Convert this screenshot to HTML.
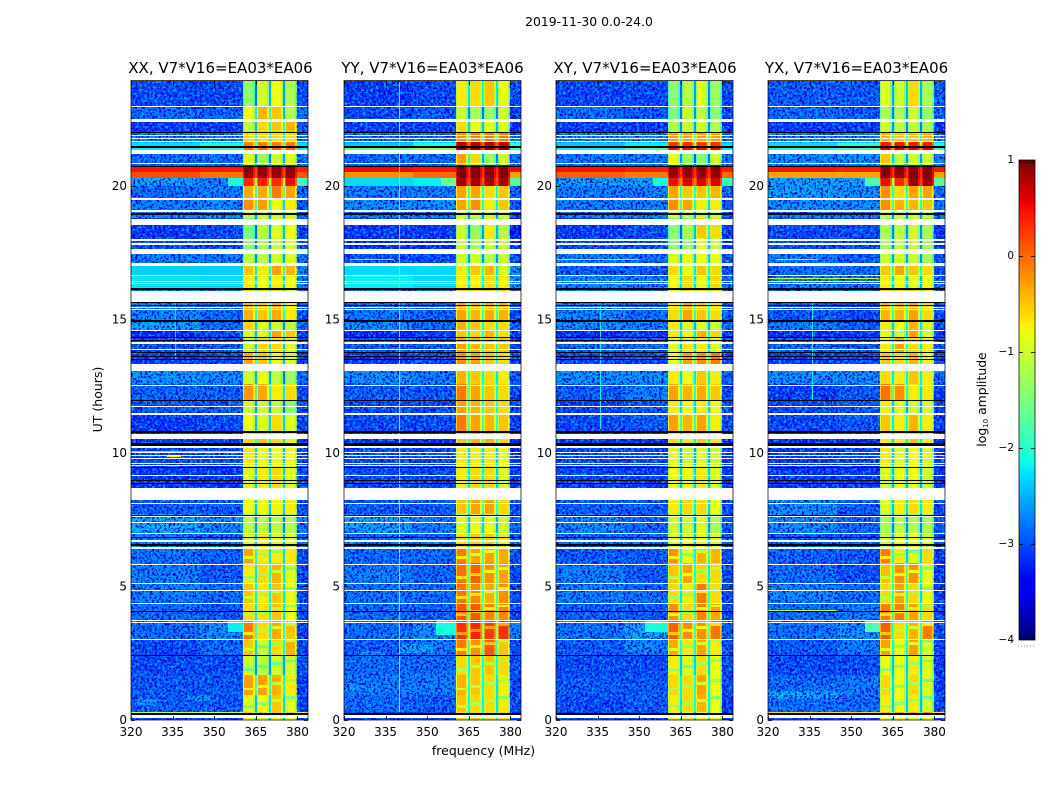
<!DOCTYPE html>
<html>
<head>
<meta charset="utf-8">
<title>2019-11-30 0.0-24.0</title>
<style>
html,body{margin:0;padding:0;background:#fff;width:1050px;height:800px;overflow:hidden}
svg{display:block;font-family:"DejaVu Sans","Liberation Sans",sans-serif;fill:#000}
</style>
</head>
<body>
<svg id="chart" xmlns="http://www.w3.org/2000/svg" width="1050" height="800" viewBox="0 0 1050 800">
  <defs id="defs">
    <filter id="speckle-dark" x="0" y="0" width="100%" height="100%" color-interpolation-filters="sRGB">
      <feTurbulence type="fractalNoise" baseFrequency="0.42" numOctaves="2" seed="4"/>
      <feColorMatrix type="matrix" values="0 0 0 0 0  0 0 0 0 0  0 0 0 0 0.85  8 0 0 0 -3.9"/>
    </filter>
    <filter id="speckle-light" x="0" y="0" width="100%" height="100%" color-interpolation-filters="sRGB">
      <feTurbulence type="fractalNoise" baseFrequency="0.38" numOctaves="2" seed="11"/>
      <feColorMatrix type="matrix" values="0 0 0 0 0  0 0 0 0 0.66  0 0 0 0 1  0 8 0 0 -4.3"/>
    </filter>
  </defs>
  <text x="589" y="26" text-anchor="middle" font-size="12.4">2019-11-30 0.0-24.0</text>
  <g id="panels"></g>
  <text x="483.5" y="755" text-anchor="middle" font-size="12.5">frequency (MHz)</text>
  <text transform="translate(102,399.5) rotate(-90)" text-anchor="middle" font-size="12.5">UT (hours)</text>
  <g id="colorbar"></g>
  <text transform="translate(986,399.5) rotate(-90)" text-anchor="middle" font-size="12.4">log<tspan font-size="7" dy="2">10</tspan><tspan dy="-2"> amplitude</tspan></text>
</svg>
<script>
// ---- axis data ----
const freqTicks = [320, 335, 350, 365, 380];
const utTicks = [0, 5, 10, 15, 20];
const levelTicks = [1, 0, -1, -2, -3, -4];
const levelTickLabels = ["1", "0", "\u22121", "\u22122", "\u22123", "\u22124"];
const panelTitles = ["XX, V7*V16=EA03*EA06", "YY, V7*V16=EA03*EA06", "XY, V7*V16=EA03*EA06", "YX, V7*V16=EA03*EA06"];

// ---- heatmap structure (UT hours, MHz) ----
const rowEdges = [23.93,22.98,22.49,22.01,21.63,21.46,21.33,20.77,20.51,20.28,19.99,19.54,19.09,18.79,18.04,17.63,17.10,16.65,16.17,15.61,14.97,14.60,14.33,13.77,13.32,12.57,11.98,11.49,10.82,10.37,9.51,8.68,7.71,7.00,6.47,5.88,5.13,4.38,3.74,3.03,2.43,1.68,0.94,0.30,0.26,0];
const blockEdges = [320, 345, 360.3, 364.6, 365.4, 369.7, 370.5, 374.7, 375.5, 379.7, 383.8];
const whiteFlags = [[22.94,22.98],[22.45,22.49],[22.38,22.42],[21.86,21.90],[21.75,21.79],[21.63,21.67],[21.18,21.35],[20.81,20.86],[19.47,19.54],[19.01,19.09],[18.54,18.76],[17.95,18.03],[17.80,17.85],[17.47,17.62],[17.00,17.10],[16.61,16.65],[16.39,16.43],[16.32,16.35],[15.67,16.07],[15.42,15.46],[15.34,15.38],[14.56,14.62],[14.09,14.15],[13.85,13.90],[13.08,13.32],[12.50,12.56],[11.71,11.77],[11.43,11.49],[10.52,10.71],[10.19,10.25],[10.00,10.04],[9.89,9.94],[9.77,9.81],[9.61,9.64],[9.51,9.54],[9.15,9.19],[8.23,8.67],[8.08,8.12],[7.60,7.64],[7.37,7.41],[6.96,7.00],[6.65,6.74],[6.40,6.47],[5.83,5.86],[5.08,5.12],[4.82,4.85],[4.34,4.37],[3.71,3.74],[3.65,3.68],[2.99,3.02],[0.09,0.19]];
const blackFlags = [[21.97,22.01],[21.43,21.48],[20.70,20.75],[18.92,18.97],[16.11,16.16],[15.61,15.67],[15.49,15.53],[14.91,14.97],[14.30,14.33],[14.18,14.23],[13.73,13.77],[13.58,13.62],[13.47,13.51],[11.94,11.98],[10.76,10.82],[10.25,10.37],[9.43,9.49],[8.96,9.00],[8.83,8.87],[7.65,7.69],[6.81,6.85],[6.53,6.60],[4.06,4.08],[2.39,2.42],[0.19,0.26]];

// ---- log10 amplitude per row: [320-345, 345-360, subband1, subband2, subband3, subband4, 380-384] ----
const valuesXX = [
[-3,-3,-1.4,-1,-.8,-1.2,-3],[-2.8,-2.85,-.8,-.4,-.5,-1.2,-2.8],[-3.1,-3.1,-1.1,-.6,-.5,-.4,-2.9],[-2.7,-2.7,-.6,-.6,-.6,-.6,-2.8],[-2.3,-2.1,-.1,-.1,-.1,-.1,-2.3],[-2.2,-2,0,0,0,0,-2.2],[-2.8,-2.8,-.9,-1.3,-1,-.9,-2.7],[.45,.4,.95,.95,.95,.95,.4],[.15,-.05,.9,.9,.9,.9,.1],[-2.5,-2.7,.35,.4,.35,.5,-1.9],[-2.8,-2.7,-.35,-.35,-.1,-.3,-2.8],[-2.7,-2.6,-.2,-.3,-.8,-.7,-2.9],[-2.6,-2.6,-1,-1,-1,-1,-2.8],[-3.1,-3,-1.5,-1.1,-.9,-.8,-3.1],[-3,-3,-1.4,-1.2,-1,-.9,-3],[-2.7,-2.7,-1.1,-1.1,-1,-.9,-2.7],[-2.35,-2.35,-.5,-.7,-.3,-.4,-2.6],[-2.25,-2.3,-.7,-.8,-.7,-.8,-2.7],[-2.6,-2.7,-.6,-.6,-.6,-.8,-2.8],[-2.65,-2.8,-.4,-.5,-.35,-.7,-2.9],[-2.5,-2.8,-.6,-.9,-1,-1.1,-2.8],[-3.2,-3,-.9,-.9,-.3,-.5,-3.1],[-3,-2.9,-1,-.6,-.6,-.9,-2.9],[-3.1,-3,-.35,-.5,-.8,-.9,-3],[-2.55,-2.6,-1,-.8,-1.1,-1.3,-2.8],[-2.85,-2.85,-.25,-.35,-.7,-.6,-3],[-2.9,-2.9,-1,-1,-1.1,-1.4,-3],[-3.1,-3,-.8,-.9,-.6,-.9,-3],[-3.1,-3.1,-.6,-.5,-.6,-.7,-3.1],[-3,-3,-.7,-.8,-.8,-.8,-3],[-3.1,-3.1,-.9,-.7,-.6,-.9,-3],[-2.9,-2.9,-.8,-.8,-.75,-.7,-2.9],[-2.45,-2.6,-1.1,-1.1,-1.1,-1.2,-2.7],[-2.7,-2.8,-.9,-.7,-.9,-.9,-2.8],[-2.75,-2.85,-.3,-.7,-.7,-.7,-3],[-2.7,-2.9,-.7,-.6,-.4,-.9,-3],[-2.7,-2.8,-.5,-.7,-.5,-.8,-3],[-2.8,-2.9,-.6,-.65,-.5,-.8,-3],[-2.8,-2.6,-.1,-.6,-.35,-.5,-3.1],[-3,-2.8,-.5,-1,-.6,-.4,-3],[-3,-3,-1,-1.1,-1,-1,-3],[-2.9,-2.9,-.3,-.3,-.4,-.7,-3.1],[-2.9,-2.9,-.9,-.8,-.5,-.9,-3.1],[-1,-1,-.5,-.5,-.5,-.5,-1],[-3,-3,-.8,-.8,-.8,-.8,-3]
];
const valuesYY = [
[-3.1,-3,-.7,-.6,-.5,-.8,-3],[-3,-2.9,-1,-1.2,-1.3,-1,-3.1],[-3.1,-3.1,-.6,-.8,-.9,-.9,-3.2],[-2.8,-2.8,-.2,-.1,-.1,-.1,-2.8],[-2.4,-2.1,.75,.75,.75,.75,-2],[-1.7,-1.4,.9,.9,.9,.9,-2],[-2.8,-2.8,-.3,-.6,-1.3,-1,-2.8],[.5,.45,1,1,1,1,.5],[-.2,0,1,1,1,1,-.3],[-2.3,-2.2,.85,.85,.85,.85,-1.7],[-2.7,-2.7,-.3,-.3,-.6,-.5,-2.8],[-2.6,-2.6,-.3,-.2,-.7,-.5,-2.9],[-2.7,-2.7,-1,-1,-1,-1,-2.9],[-3.1,-3.1,-1,-1.3,-.7,-1.1,-3.3],[-3.2,-3.2,-1,-1.2,-1,-1,-3.2],[-3,-3,-1,-1,-1.1,-1,-3],[-2.3,-2.3,-.7,-.5,-.4,-.9,-2.6],[-2.2,-2.3,-.7,-.7,-.6,-.7,-2.6],[-2.7,-2.8,-.5,-.5,-.5,-.6,-2.9],[-2.75,-2.85,-.3,-.4,-.35,-.4,-3],[-2.6,-2.8,-.4,-.5,-.6,-.6,-2.9],[-3.2,-3.1,-.5,-.6,-.4,-.6,-3.1],[-2.9,-2.9,-.3,-.4,-.5,-.5,-3],[-3.1,-3,-.2,-.3,-.5,-.6,-3],[-2.6,-2.7,-.4,-.5,-.6,-.7,-2.9],[-2.9,-2.9,-.1,-.3,-.5,-.6,-3],[-3,-3,-.3,-.4,-.5,-.6,-3],[-3,-3,-.1,-.3,-.4,-.5,-3],[-3.2,-3.2,-.5,-.4,-.4,-.6,-3.2],[-3,-3,-.7,-.7,-.7,-.8,-3.1],[-3,-3,-.7,-.6,-.6,-.9,-3.1],[-2.9,-2.9,-.5,-.3,-.3,-.6,-3],[-2.5,-2.7,-.9,-.8,-.8,-1,-2.8],[-2.8,-2.8,-.6,-.5,-.5,-.7,-2.9],[-2.8,-2.8,-.1,-.3,-.3,-.35,-3],[-2.7,-2.85,-.05,.05,-.2,-.3,-3],[-2.75,-2.8,-.05,-.15,-.35,-.2,-3],[-2.8,-2.85,.1,.1,-.15,-.15,-3],[-2.8,-2.6,.3,.35,.25,.3,-2.7],[-2.9,-2.7,-.1,-.2,.1,-.5,-3],[-2.8,-2.8,-.6,-.5,-.5,-.6,-3],[-2.7,-2.7,-.4,-.5,-.6,-.7,-3],[-2.8,-2.9,-.5,-.6,-.6,-.7,-3],[-3,-3,-.6,-.6,-.6,-.6,-3],[-3,-3,-.6,-.5,-.6,-.6,-3]
];
const valuesXY = [
[-3,-3,-1.4,-1.1,-.9,-1.3,-3],[-2.8,-2.9,-1.5,-1,-1.1,-1.4,-3],[-3.1,-3.1,-1.2,-1,-1,-1.2,-3.2],[-2.6,-2.6,-.3,-.3,-.3,-.3,-2.8],[-2.4,-2.2,.3,.3,.3,.3,-2.3],[-2.2,-1.9,.5,.5,.5,.5,-2.2],[-2.7,-2.7,-.8,-1.3,-1.4,-1,-2.8],[.45,.4,1,1,1,1,.4],[.05,-.1,.95,.95,.95,.95,0],[-2.5,-2.5,.5,.6,.6,.6,-1.9],[-2.7,-2.7,-.3,-.5,-.5,-.4,-2.8],[-2.7,-2.7,-.2,-.3,-.7,-.7,-2.9],[-2.7,-2.7,-.9,-1,-1,-1,-2.9],[-3.1,-3,-1.4,-1.2,-.5,-.6,-3.1],[-3,-3,-1.4,-1.3,-.8,-1,-3.1],[-2.7,-2.8,-.9,-.8,-.8,-.8,-2.9],[-2.9,-2.9,-.6,-.8,-.5,-.6,-3],[-2.6,-2.7,-.8,-.6,-.8,-.6,-2.8],[-2.7,-2.8,-.7,-.5,-.6,-.6,-2.9],[-2.65,-2.8,-.6,-.3,-.5,-.6,-2.9],[-2.6,-2.7,-.7,-.9,-.9,-1,-2.8],[-3.2,-3.1,-.7,-.8,-.4,-.6,-3.1],[-2.8,-2.8,-.9,-.7,-.7,-.9,-2.9],[-3,-3,-.8,-.3,-.2,-.1,-3],[-2.6,-2.6,-.7,-.8,-.5,-.7,-2.9],[-2.9,-2.7,-.3,-.4,-.35,-.5,-3],[-3.1,-2.9,-.7,-.8,-.7,-.8,-3],[-3,-2.9,-.3,-.4,-.3,-.7,-3],[-3.2,-3.2,-.6,-.7,-.5,-.7,-3.2],[-3,-3,-.9,-1,-.9,-1,-3.1],[-3,-3.1,-.8,-.8,-.7,-.9,-3.1],[-2.9,-2.9,-.7,-.6,-.6,-.8,-3],[-2.6,-2.8,-1,-1,-.9,-1.2,-2.9],[-2.8,-2.8,-.9,-.8,-.8,-.9,-2.9],[-2.9,-2.9,-.2,-.8,-.4,-.4,-3],[-2.7,-2.9,-.5,-.3,-.6,-.6,-3],[-2.7,-2.8,-.6,-.7,-.1,-.6,-3],[-2.85,-2.9,-.2,-.6,-.15,-.3,-3],[-2.75,-2.5,.05,-.2,-.2,-.05,-2.9],[-2.9,-2.7,-.35,-.7,-.3,-.7,-3],[-3,-3,-.7,-.9,-.6,-.8,-3],[-2.9,-2.9,-.6,-.6,-.3,-.8,-3],[-3,-2.9,-.7,-.6,-.4,-.8,-3.1],[-3,-3,-.8,-.8,-.8,-.8,-3],[-3,-3,-.7,-.7,-.7,-.7,-3]
];
const valuesYX = [
[-2.9,-2.9,-.9,-1,-.6,-1.2,-2.9],[-2.8,-2.9,-1.2,-1.2,-1,-1.3,-2.9],[-3.1,-3.1,-1,-1.1,-1.1,-1.2,-3.2],[-2.7,-2.7,-.4,-.5,-.5,-.4,-2.7],[-2.3,-2,.45,.45,.45,.4,-2.1],[-2.1,-1.9,.6,.6,.6,.6,-2],[-2.6,-2.6,-.5,-1.1,-1,-1,-2.7],[.45,.4,1,1,1,1,.45],[-.3,-.3,1,.95,1,1,-.3],[-2.5,-2.5,.5,.35,.9,.9,-1.7],[-2.5,-2.6,-.2,-.6,-.3,-.3,-2.8],[-2.6,-2.6,-.2,-.4,-.4,-.5,-2.8],[-2.7,-2.7,-1,-1,-1,-1,-2.8],[-3,-3,-1.2,-1.1,-1,-1.2,-3.1],[-3,-3,-1.2,-1.1,-1,-1.2,-3.1],[-2.7,-2.9,-1,-1,-1,-1.2,-3],[-2.8,-2.8,-.5,-.3,-.5,-.6,-3],[-2.7,-2.8,-.7,-.8,-.9,-.8,-2.8],[-2.8,-2.9,-.5,-.6,-.5,-.7,-2.9],[-2.9,-3,-.4,-.4,-.3,-.6,-3],[-2.7,-2.9,-.7,-.8,-.4,-.9,-3],[-3.2,-3.1,-.8,-1,-.3,-.9,-3.1],[-2.85,-2.9,-.7,-.35,-.6,-.7,-3],[-3.1,-3,-.5,-.6,-.4,-.8,-3],[-2.6,-2.6,-.6,-.7,-.5,-.7,-2.8],[-3.1,-2.9,-.05,-.2,-.7,-.7,-3.1],[-3,-2.9,-.7,-.9,-1,-1,-3],[-3,-2.9,-.5,-.7,-.4,-.7,-3],[-3.2,-3.2,-.7,-.7,-.5,-.7,-3.2],[-3.1,-3,-.7,-.9,-.8,-.9,-3],[-3.1,-3.1,-.9,-.8,-.8,-1,-3.1],[-2.6,-2.9,-.9,-.7,-.6,-.7,-3],[-2.6,-2.8,-1.2,-1.1,-1.2,-1.2,-2.9],[-2.9,-2.9,-1,-.8,-.8,-.9,-3],[-2.85,-2.9,-.1,-.7,-.9,-.6,-3.1],[-2.8,-3,-.45,-.2,-.2,-.8,-3.1],[-2.65,-2.8,-.6,-.3,-.6,-.8,-3.1],[-2.8,-2.7,-.1,-.1,-.3,-.6,-3],[-2.75,-2.6,.05,-.6,-.4,-.1,-3],[-2.9,-2.7,-.3,-.8,-.3,-.9,-3],[-3,-3,-.8,-.8,-.7,-.9,-3.1],[-2.8,-2.7,-.6,-.8,-.6,-.9,-3.1],[-2.8,-2.8,-.7,-.8,-.7,-1,-3],[-.6,-.6,-.3,-.3,-.3,-.3,-.6],[-3,-3,-.8,-.8,-.8,-.8,-3]
];
// Localised features: [panel, fStart, fEnd, utStart, utEnd, log10 amplitude]
const localFeatures = [
[0,355,360.3,3.3,3.75,-2.2],[0,333,338,9.87,9.9,-.7],[0,322,330,.55,.8,-2.6],[0,340,350,.7,.9,-2.6],[0,320,360,10.02,10.06,-1.8],[0,335.8,336.3,13.5,15.6,-2.3],[0,355,360.3,19.99,20.28,-2.1],
[1,353,360.3,3.2,3.75,-2.1],[1,340,352,2.5,2.85,-2.5],[1,325,335,2.35,2.6,-2.6],[1,322,332,1.1,1.3,-2.6],[1,339.8,340.3,.3,23.9,-1.9],[1,322,338,17.22,17.26,-1.7],[1,355,360.3,19.99,20.28,-1.6],
[2,352,360.3,3.3,3.75,-2.1],[2,345,356,2.6,2.9,-2.6],[2,320,350,17.22,17.27,-1.5],[2,335.8,336.3,10.9,15.5,-2.2],[2,355,360.3,19.99,20.28,-2.1],
[3,355,360.3,3.3,3.75,-1.8],[3,322,345,.8,1.1,-2.5],[3,320,335,.9,1.1,-2.4],[3,320,345,4.08,4.12,-1.1],[3,323,338,17.22,17.26,-1.4],[3,320,360,16.5,16.54,-1],[3,335.8,336.3,12,15.6,-2.2],[3,355,360.3,19.99,20.28,-1.8]
];
// In-band ripples are only strong below this UT (hours); seam spacing in hours
const rippleMaxUt = 6.47;
const rippleSpacing = 0.55;
const speckleMaxLevel = -2.4;

// ---- layout ----
const SVGNS = "http://www.w3.org/2000/svg";
const panelLeft = [131, 344, 556, 768];
const titleCenter = [220.5, 432.5, 645, 856.5];
const panelWidth = 177, plotTop = 81, plotBottom = 720;
const freqMin = 320, freqMax = 383.8, utMin = 0, utMax = 23.93;
const levelMin = -4, levelMax = 1;
const allValues = [valuesXX, valuesYY, valuesXY, valuesYX];

function xScale(p, f) { return panelLeft[p] + (f - freqMin) / (freqMax - freqMin) * panelWidth; }
function yScale(ut) { return plotBottom - (ut - utMin) / (utMax - utMin) * (plotBottom - plotTop); }
function piece(t, pts) {
  if (t <= pts[0][0]) return pts[0][1];
  for (let i = 1; i < pts.length; i++) {
    if (t <= pts[i][0]) return pts[i-1][1] + (pts[i][1] - pts[i-1][1]) * (t - pts[i-1][0]) / (pts[i][0] - pts[i-1][0]);
  }
  return pts[pts.length-1][1];
}
function jet(v) {
  const t = Math.max(0, Math.min(1, (v - levelMin) / (levelMax - levelMin)));
  const r = piece(t, [[0,0],[.35,0],[.66,1],[.89,1],[1,.5]]);
  const g = piece(t, [[0,0],[.125,0],[.375,1],[.64,1],[.91,0],[1,0]]);
  const b = piece(t, [[0,.5],[.11,1],[.34,1],[.65,0],[1,0]]);
  return "rgb(" + Math.round(r*255) + "," + Math.round(g*255) + "," + Math.round(b*255) + ")";
}
function mk(parent, tag, attrs) {
  const el = document.createElementNS(SVGNS, tag);
  for (const k in attrs) el.setAttribute(k, attrs[k]);
  parent.appendChild(el);
  return el;
}
function cell(parent, p, f0, f1, ut0, ut1, v) {
  const x0 = Math.round(xScale(p, f0)), x1 = Math.round(xScale(p, f1));
  const y0 = Math.round(yScale(ut1)), y1 = Math.round(yScale(ut0));
  const r = mk(parent, "rect", {x: x0, y: y0, width: Math.max(1, x1 - x0), height: Math.max(1, y1 - y0), fill: jet(v), "shape-rendering": "crispEdges"});
  
  
  return r;
}
function flag(parent, p, span, color, name) {
  const y0 = Math.round(yScale(span[1])), y1 = Math.round(yScale(span[0]));
  const r = mk(parent, "rect", {x: panelLeft[p], y: y0, width: panelWidth, height: Math.max(1, y1 - y0), fill: color, "shape-rendering": "crispEdges"});
  
  
}
function notchLevel(a, b) {
  const avg = (a + b) / 2;
  return avg > .5 ? avg - .7 : avg - 1.6;
}

const panels = document.getElementById("panels");
const defs = document.getElementById("defs");
panelTitles.forEach(function (title, p) {
  const g = mk(panels, "g", {});
  
  

  const clip = mk(defs, "clipPath", {id: "speckle-clip-" + p});
  const values = allValues[p];
  for (let r = 0; r < values.length; r++) {
    const row = values[r], utHi = rowEdges[r], utLo = rowEdges[r + 1];
    const columnValues = [row[0], row[1], row[2], notchLevel(row[2], row[3]), row[3], notchLevel(row[3], row[4]), row[4], notchLevel(row[4], row[5]), row[5], row[6]];
    for (let c = 0; c < columnValues.length; c++) {
      cell(g, p, blockEdges[c], blockEdges[c + 1], utLo, utHi, columnValues[c]);
    }
    // softer sub-band shoulders next to each notch
    [2, 4, 6, 8].forEach(function (c, k) {
      cell(g, p, blockEdges[c], blockEdges[c] + .5, utLo, utHi, columnValues[c] - .45);
      cell(g, p, blockEdges[c + 1] - .5, blockEdges[c + 1], utLo, utHi, columnValues[c] - .45);
      if (utHi <= rippleMaxUt) {
        for (let u = utLo + rippleSpacing * (.3 + .2 * k); u < utHi - .1; u += rippleSpacing) {
          cell(g, p, blockEdges[c], blockEdges[c + 1], u, u + .09, columnValues[c] - .6);
        }
      }
    });
    // grain only shows on the faint off-band rows
    [[0, 0], [1, 1], [9, 6]].forEach(function (pair) {
      if (row[pair[1]] < speckleMaxLevel) {
        mk(clip, "rect", {x: xScale(p, blockEdges[pair[0]]), y: yScale(utHi), width: xScale(p, blockEdges[pair[0] + 1]) - xScale(p, blockEdges[pair[0]]), height: yScale(utLo) - yScale(utHi)});
      }
    });
  }

  const features = localFeatures.filter(function (f) { return f[0] === p; });
  features.filter(function (f) { return f[5] < -2.3; }).forEach(function (f) {
    cell(g, p, f[1], f[2], f[3], f[4], f[5]);
  });

  // fine grain on the off-band regions (visual texture only, no data)
  const xA = xScale(p, 320), xB = xScale(p, 383.8);
  const dark = mk(g, "rect", {x: xA, y: plotTop, width: xB - xA, height: plotBottom - plotTop, filter: "url(#speckle-dark)", "clip-path": "url(#speckle-clip-" + p + ")", opacity: .95});
  
  
  const light = mk(g, "rect", {x: xA, y: plotTop, width: xB - xA, height: plotBottom - plotTop, filter: "url(#speckle-light)", "clip-path": "url(#speckle-clip-" + p + ")", opacity: .85});
  
  

  features.filter(function (f) { return f[5] >= -2.3; }).forEach(function (f) {
    cell(g, p, f[1], f[2], f[3], f[4], f[5]);
  });
  whiteFlags.forEach(function (s) { flag(g, p, s, "#fff", "flagged-row-white"); });
  blackFlags.forEach(function (s) { flag(g, p, s, "#000", "flagged-row-black"); });

  // spines
  const spine = mk(g, "rect", {x: panelLeft[p], y: plotTop - .5, width: panelWidth, height: plotBottom - plotTop + .5, fill: "none", stroke: "#000", "stroke-width": 1, "stroke-opacity": .75});
  
  

  // x ticks
  freqTicks.forEach(function (f) {
    const x = Math.round(xScale(p, f)) + .5;
    const t1 = mk(g, "line", {x1: x, x2: x, y1: plotBottom, y2: plotBottom - 4, stroke: "#000", "stroke-width": .8});
    
    
    const t2 = mk(g, "line", {x1: x, x2: x, y1: plotTop, y2: plotTop + 4, stroke: "#000", "stroke-width": .8});
    
    
    const lab = mk(g, "text", {x: xScale(p, f), y: 736, "text-anchor": "middle", "font-size": 12});
    
    
    lab.textContent = f;
  });
  // y ticks
  utTicks.forEach(function (u) {
    const y = Math.round(yScale(u)) + .5;
    const t1 = mk(g, "line", {x1: panelLeft[p], x2: panelLeft[p] + 4, y1: y, y2: y, stroke: "#000", "stroke-width": .8});
    
    
    const t2 = mk(g, "line", {x1: panelLeft[p] + panelWidth, x2: panelLeft[p] + panelWidth - 4, y1: y, y2: y, stroke: "#000", "stroke-width": .8});
    
    
    const lab = mk(g, "text", {x: panelLeft[p] - 4, y: yScale(u) + 4, "text-anchor": "end", "font-size": 12});
    
    
    lab.textContent = u;
  });
  const ttl = mk(g, "text", {x: titleCenter[p], y: 73, "text-anchor": "middle", "font-size": 15});
  
  
  ttl.textContent = title;
});

// ---- colorbar ----
const cb = document.getElementById("colorbar");
const cbLeft = 1019, cbRight = 1035, cbTop = 160, cbBottom = 640;
function levelY(v) { return cbBottom - (v - levelMin) / (levelMax - levelMin) * (cbBottom - cbTop); }
for (let py = cbTop; py < cbBottom; py += 2) {
  const v = levelMin + (cbBottom - py - 1) / (cbBottom - cbTop) * (levelMax - levelMin);
  const s = mk(cb, "rect", {x: cbLeft, y: py, width: cbRight - cbLeft, height: 2, fill: jet(v), "shape-rendering": "crispEdges"});
  
  
}
const cbFrame = mk(cb, "rect", {x: cbLeft, y: cbTop, width: cbRight - cbLeft, height: cbBottom - cbTop, fill: "none", stroke: "#000", "stroke-width": 1, "stroke-opacity": .75});


levelTicks.forEach(function (v, i) {
  const y = Math.round(levelY(v)) + .5;
  if (i > 0 && i < levelTicks.length - 1) {
    [[cbLeft, cbLeft + 4], [cbRight - 4, cbRight]].forEach(function (s) {
      const t = mk(cb, "line", {x1: s[0], x2: s[1], y1: y, y2: y, stroke: "#000", "stroke-width": .8});
      
      
    });
  }
  const lab = mk(cb, "text", {x: 1014, y: levelY(v) + 3, "text-anchor": "end", "font-size": 10.5});
  
  
  lab.textContent = levelTickLabels[i];
});
for (let x = cbLeft + 2; x < cbRight - 1; x += 2.4) {
  [[cbTop, cbTop + 4], [cbBottom - 4, cbBottom]].forEach(function (s) {
    const t = mk(cb, "line", {x1: x, x2: x, y1: s[0], y2: s[1], stroke: "#000", "stroke-width": .7});
    
    
  });
}
const dots = mk(cb, "line", {x1: 1018, x2: 1034, y1: 646, y2: 646, stroke: "#777", "stroke-width": 1, "stroke-dasharray": "1 2"});


</script>
</body>
</html>
